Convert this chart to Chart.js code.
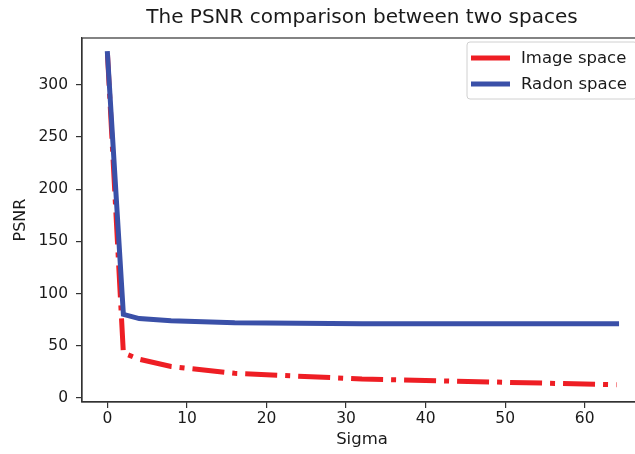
<!DOCTYPE html>
<html>
<head>
<meta charset="utf-8">
<script src="https://cdn.jsdelivr.net/npm/chart.js@4.4.0/dist/chart.umd.min.js"></script>
<style>
  html, body { margin: 0; padding: 0; background: #fff; overflow: hidden; }
  #wrap { width: 724px; height: 454px; }
</style>
</head>
<body>
<div id="wrap"><canvas id="psnr-chart" width="724" height="454"></canvas></div>
<script>
// 読み取った値
const sigma = [0, 2, 4, 8, 16, 32, 64];
const imageSpace = [330, 43, 37, 30, 23.5, 18, 12.5];
const radonSpace = [330, 80, 76, 74, 72, 71, 71];
const xTicks = [0, 10, 20, 30, 40, 50, 60];
const yTicks = [0, 50, 100, 150, 200, 250, 300];
const chartTitle = 'The PSNR comparison between two spaces';

const FONT = "'DejaVu Sans', sans-serif";
const TXT = '#1a1a1a';

function toPoints(xs, ys) {
    return xs.map((x, i) => ({x: x, y: ys[i]}));
}

// 軸の外枠
const framePlugin = {
    id: 'frame',
    afterDatasetsDraw(chart) {
        const a = chart.chartArea, ctx = chart.ctx;
        ctx.save();
        ctx.strokeStyle = '#333';
        ctx.lineWidth = 1.2;
        ctx.strokeRect(a.left, a.top, a.right - a.left, a.bottom - a.top);
        ctx.restore();
    }
};

// タイトルはプロット領域の中央に（標準タイトルだとpaddingのせいで左にずれる）
const axesTitle = {
    id: 'axesTitle',
    afterDraw(chart) {
        const a = chart.chartArea, ctx = chart.ctx;
        ctx.save();
        ctx.fillStyle = TXT;
        ctx.font = '20px ' + FONT;
        ctx.textAlign = 'center';
        ctx.textBaseline = 'middle';
        ctx.fillText(chartTitle, (a.left + a.right) / 2, 18);
        ctx.restore();
    }
};

// 凡例（matplotlib風の枠付き）
const boxLegend = {
    id: 'boxLegend',
    afterDraw(chart) {
        const a = chart.chartArea, ctx = chart.ctx;
        const right = a.right - 5, left = right - 170, top = a.top + 4, bottom = top + 57;
        ctx.save();
        ctx.fillStyle = 'rgba(255,255,255,0.8)';
        ctx.strokeStyle = '#d0d0d0';
        ctx.lineWidth = 1;
        ctx.beginPath();
        ctx.roundRect(left, top, right - left, bottom - top, 3);
        ctx.fill();
        ctx.stroke();
        chart.data.datasets.forEach((ds, i) => {
            const y = top + 16 + i * 26;
            ctx.strokeStyle = ds.borderColor;
            ctx.lineWidth = 5;
            ctx.beginPath();
            ctx.moveTo(left + 4, y);
            ctx.lineTo(left + 43, y);
            ctx.stroke();
            ctx.fillStyle = TXT;
            ctx.font = '16.5px ' + FONT;
            ctx.textBaseline = 'middle';
            ctx.fillText(ds.label, left + 54, y + 1);
        });
        ctx.restore();
    }
};

const tickGrid = {display: true, drawOnChartArea: false, drawTicks: true, tickLength: 6, color: '#333', lineWidth: 1.2};

new Chart(document.getElementById('psnr-chart').getContext('2d'), {
    type: 'line',
    data: {
        datasets: [{
            label: 'Image space',
            data: toPoints(sigma, imageSpace),
            borderColor: 'rgb(238, 30, 36)',
            backgroundColor: 'rgb(238, 30, 36)',
            borderWidth: 5,
            borderDash: [32, 8, 5, 8],
            borderCapStyle: 'butt',
            pointRadius: 0,
            tension: 0,
            fill: false,
            order: 2
        }, {
            label: 'Radon space',
            data: toPoints(sigma, radonSpace),
            borderColor: 'rgb(58, 80, 168)',
            backgroundColor: 'rgb(58, 80, 168)',
            borderWidth: 5,
            borderCapStyle: 'square',
            pointRadius: 0,
            tension: 0,
            fill: false,
            order: 1
        }]
    },
    options: {
        responsive: false,
        animation: false,
        layout: {padding: {left: 0, right: 82, top: 38, bottom: 0}},
        plugins: {
            legend: {display: false},
            tooltip: {enabled: false},
            title: {display: false}
        },
        scales: {
            x: {
                type: 'linear',
                min: -3.2,
                max: 67.2,
                afterBuildTicks(scale) { scale.ticks = xTicks.map(v => ({value: v})); },
                afterFit(scale) { scale.height = 52; },
                ticks: {color: TXT, font: {family: FONT, size: 15.5}, padding: 2},
                grid: tickGrid,
                border: {display: true, color: '#333', width: 1.2},
                title: {display: true, text: 'Sigma', color: TXT, font: {family: FONT, size: 16.5}, padding: {top: 1}}
            },
            y: {
                type: 'linear',
                min: -4,
                max: 345,
                afterBuildTicks(scale) { scale.ticks = yTicks.map(v => ({value: v})); },
                afterFit(scale) { scale.width = 82; },
                ticks: {color: TXT, font: {family: FONT, size: 15.5}, padding: 8},
                grid: tickGrid,
                border: {display: true, color: '#333', width: 1.2},
                title: {display: true, text: 'PSNR', color: TXT, font: {family: FONT, size: 16}, padding: {top: 11, bottom: 0}}
            }
        }
    },
    plugins: [framePlugin, axesTitle, boxLegend]
});
</script>
</body>
</html>
